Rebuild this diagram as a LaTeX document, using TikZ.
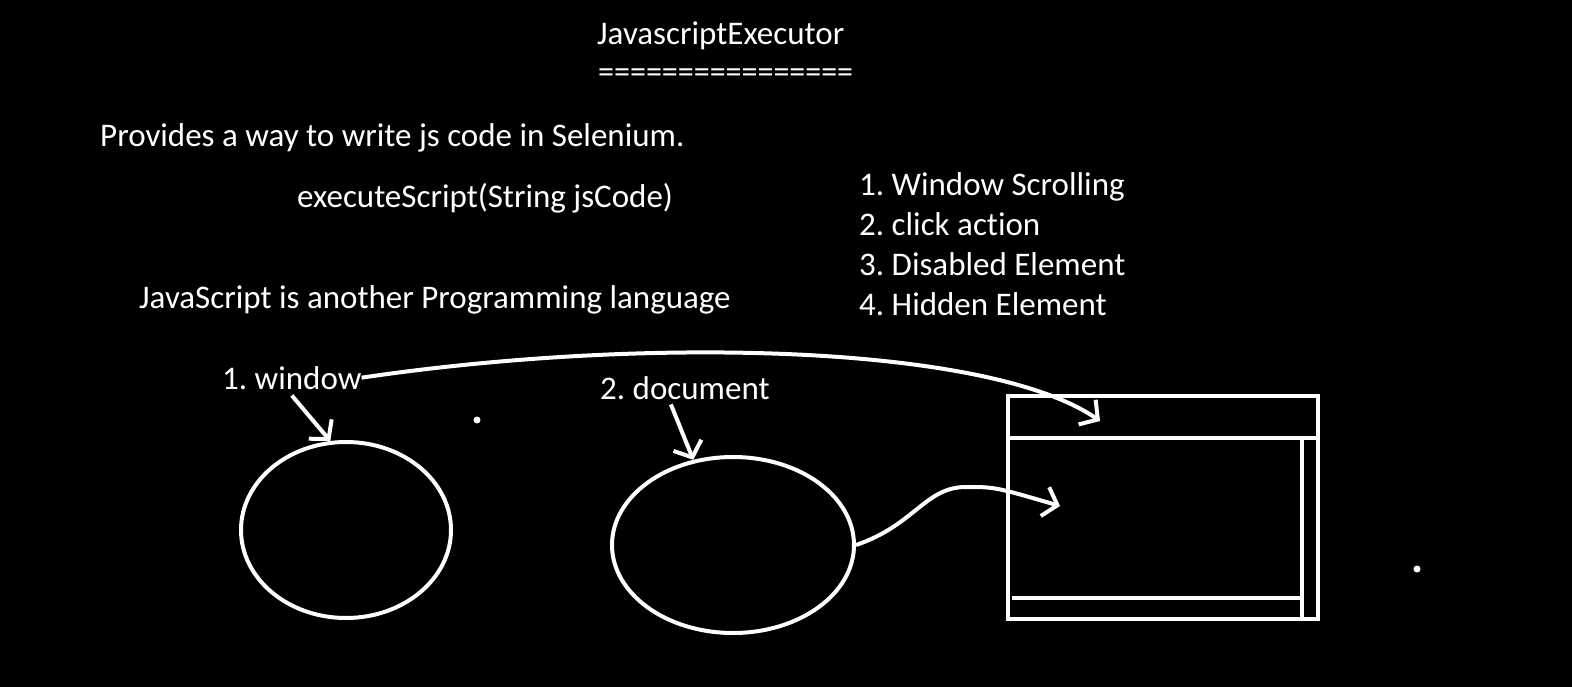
\documentclass[tikz,border=0pt]{standalone}
\usepackage{fontspec}
\setmainfont{Carlito}[Ligatures=CommonOff]
\usetikzlibrary{arrows.meta,shapes.geometric,calc}
\frenchspacing

\begin{document}
\begin{tikzpicture}[x=1pt, y=-1pt, >={Straight Barb[length=13pt,width=30pt]},
	   t/.style={text=white, inner sep=0pt, anchor=base west, font=\fontsize{33}{40}\selectfont},
	   ln/.style={draw=white, line width=4pt},
	   ov/.style={ellipse, draw=white, line width=4pt, inner sep=0pt},
	   dot/.style={circle, fill=white, inner sep=0pt, minimum size=7pt}]
	  \useasboundingbox (0,0) rectangle (1572,687);
	  \fill[black] (0,0) rectangle (1572,687);
	  \node[t] (title) at (597,45) {JavascriptExecutor};
	  \node[t, font=\fontsize{32}{40}\selectfont] (rule) at (598,83) {================};
	  \node[t] (desc) at (100,147) {Provides a way to write js code in Selenium.};
	  \node[t] (exec) at (297,208) {executeScript(String jsCode)};
	  \node[t] (u1) at (859,196) {1. Window Scrolling};
	  \node[t] (u2) at (859,236) {2. click action};
	  \node[t] (u3) at (859,276) {3. Disabled Element};
	  \node[t] (u4) at (859,315) {4. Hidden Element};
	  \node[t] (lang) at (139,308) {JavaScript is another Programming language};
	  \node[t] (win) at (222,389) {1. window};
	  \node[t] (doc) at (600,399) {2. document};
	  \node[dot] (d1) at (477,420) {};
	  \node[dot] (d2) at (1417,569) {};
	  \node[ov, minimum width=210pt, minimum height=176pt] (winel) at (346,530) {};
	  \node[ov, minimum width=242pt, minimum height=176pt] (docel) at (733,545) {};
	  % browser window
	  \draw[ln, line width=4.5pt] (1008,396) rectangle (1318,619);
	  \draw[ln] (1008,438) -- (1318,438);
	  \draw[ln] (1302,438) -- (1302,619);
	  \draw[ln] (1012,598) -- (1302,598);
	  \coordinate (bartip) at (1100,421);
	  \coordinate (pagetip) at (1060,506);
	  \draw[ln, ->] ($(win.south)+(0,6)$) -- (winel.100);
	  \draw[ln, ->] ($(doc.south)+(-14,5)$) -- (docel.115);
	  \draw[ln, ->] (win.east) .. controls (650,335) and (990,345) .. (bartip);
	  \draw[ln, ->] (docel.east) .. controls (915,525) and (925,487) .. (966,487)
	        .. controls (995,487) .. (pagetip);
	\end{tikzpicture}
\end{document}
